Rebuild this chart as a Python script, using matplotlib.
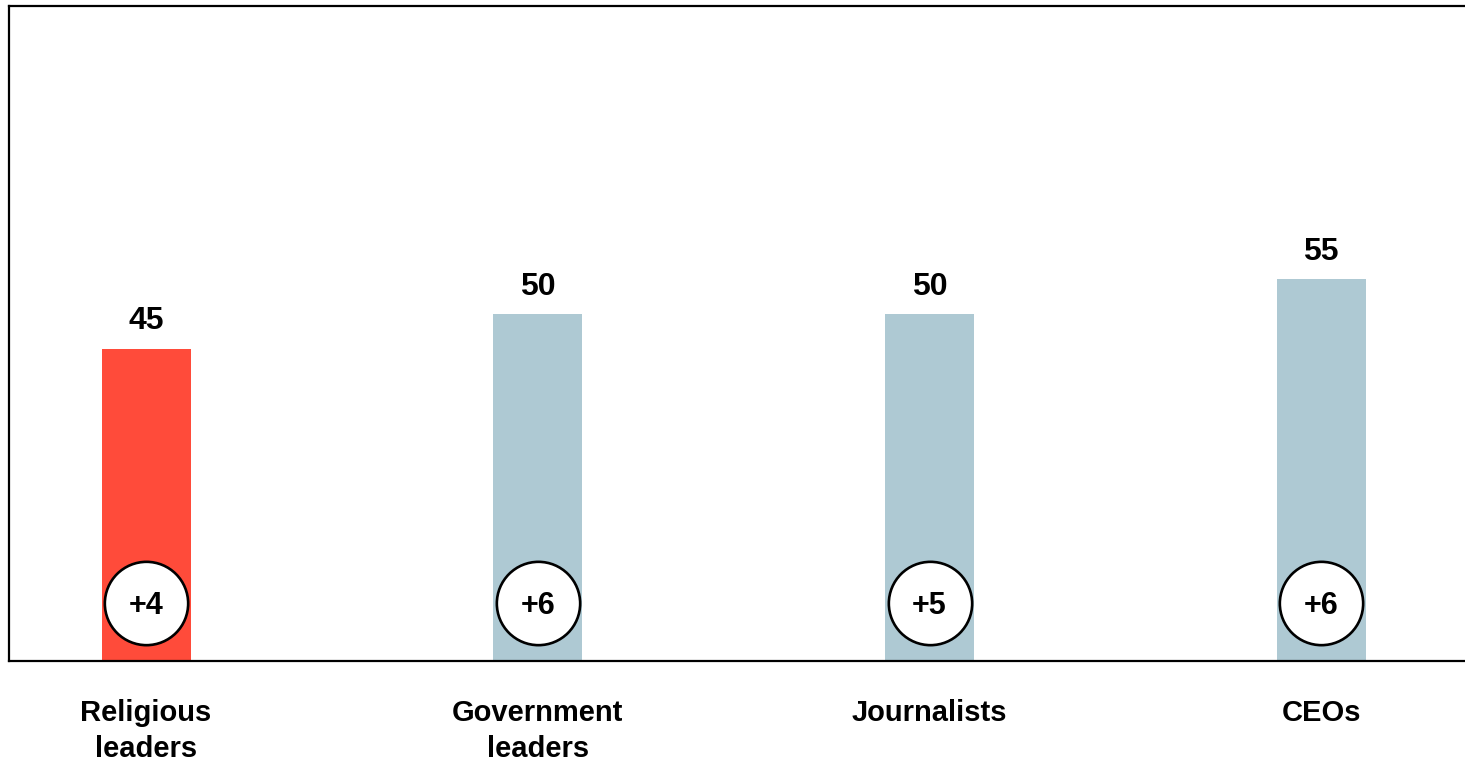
import matplotlib.pyplot as plt

plt.rcParams['font.family'] = ['Liberation Sans', 'DejaVu Sans']

categories = ['Religious\nleaders', 'Government\nleaders', 'Journalists', 'CEOs']
values = [45, 50, 50, 55]
changes = ['+4', '+6', '+5', '+6']
colors = ['#FF4B3A', '#AEC9D3', '#AEC9D3', '#AEC9D3']

fig = plt.figure(figsize=(14.65, 7.61), dpi=100)
ax = fig.add_axes([0.0061, 0.1314, 0.9939, 0.8606])

x = range(len(categories))
bars = ax.bar(x, values, width=0.227, color=colors, zorder=1)

for xi, v in zip(x, values):
    ax.annotate(str(v), (xi, v), xytext=(0, 9), textcoords='offset points',
                ha='center', va='bottom', fontsize=23, fontweight='bold')

circle_y = 8.4
ax.scatter(x, [circle_y] * len(categories), s=60 ** 2, facecolor='white',
           edgecolor='black', linewidth=1.9, zorder=3)
for xi, c in zip(x, changes):
    ax.text(xi, circle_y, c, ha='center', va='center_baseline', fontsize=22,
            fontweight='bold', zorder=4)

ax.set_xlim(-0.35, 3.367)
ax.set_ylim(0, 94.4)
ax.set_xticks(list(x))
ax.set_xticklabels(categories, fontsize=21, fontweight='bold', linespacing=1.35)
ax.tick_params(axis='x', length=0, pad=27.5)
ax.set_yticks([])

ax.spines['right'].set_visible(False)
for s in ['left', 'top', 'bottom']:
    ax.spines[s].set_linewidth(1.6)
    ax.spines[s].set_color('black')
    ax.spines[s].set_zorder(2)

plt.savefig('out.png', dpi=100)
